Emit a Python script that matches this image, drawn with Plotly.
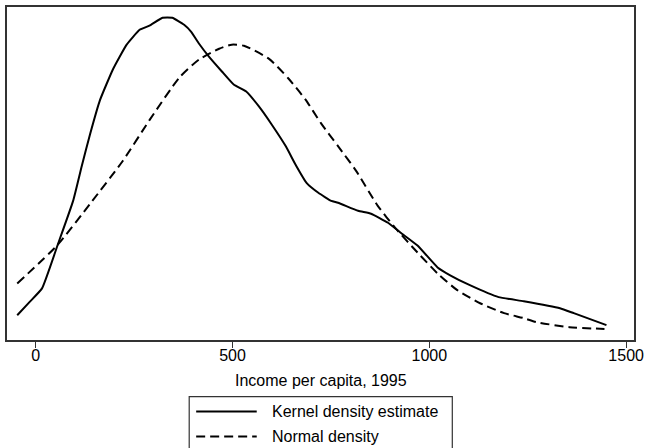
import plotly.graph_objects as go

# Kernel density estimate of income per capita, 1995
kernel_income = [-47, -16, 16, 57, 95, 117, 138, 163, 196, 231, 264, 289, 322, 347,
                 377, 395, 415, 440, 473, 503, 534, 567, 599, 635, 662, 688, 718,
                 751, 768, 819, 852, 895, 927, 970, 1021, 1053, 1103, 1176, 1240,
                 1332, 1367, 1450]
kernel_density = [0.000110, 0.000168, 0.000229, 0.000428, 0.000617, 0.000772,
                  0.000913, 0.001063, 0.001200, 0.001310, 0.001376, 0.001394,
                  0.001429, 0.001429, 0.001398, 0.001367, 0.001314, 0.001257,
                  0.001191, 0.001133, 0.001103, 0.001036, 0.000957, 0.000860,
                  0.000772, 0.000697, 0.000653, 0.000617, 0.000609, 0.000573,
                  0.000560, 0.000520, 0.000476, 0.000419, 0.000322, 0.000287,
                  0.000243, 0.000190, 0.000172, 0.000141, 0.000119, 0.000066]

# Normal density with the same mean and standard deviation
normal_income = [-47, 54, 138, 221, 289, 365, 415, 466, 498, 529, 592, 642, 685,
                 725, 768, 814, 869, 915, 970, 1021, 1071, 1129, 1190, 1240, 1273,
                 1356, 1445]
normal_density = [0.000251, 0.000419, 0.000604, 0.000794, 0.000975, 0.001164,
                  0.001244, 0.001292, 0.001310, 0.001305, 0.001248, 0.001160,
                  0.001067, 0.000961, 0.000860, 0.000750, 0.000595, 0.000494,
                  0.000388, 0.000295, 0.000221, 0.000163, 0.000119, 0.000097,
                  0.000079, 0.000057, 0.000049]

x_ticks = [0, 500, 1000, 1500]
x_tick_labels = ["0", "500", "1000", "1500"]
series_names = ["Kernel density estimate", "Normal density"]

FONT = "Arial, Liberation Sans, sans-serif"
DASH = "9px,5px"

fig = go.Figure()
fig.add_trace(go.Scatter(x=kernel_income, y=kernel_density, mode="lines",
                         name=series_names[0],
                         line=dict(color="black", width=2, shape="spline",
                                   smoothing=0.4),
                         showlegend=False))
fig.add_trace(go.Scatter(x=normal_income, y=normal_density, mode="lines",
                         name=series_names[1],
                         line=dict(color="black", width=2, dash=DASH,
                                   shape="spline", smoothing=0.6),
                         showlegend=False))

fig.update_layout(
    width=649, height=448,
    margin=dict(l=7, r=11, t=5, b=108),
    paper_bgcolor="white", plot_bgcolor="white",
    font=dict(family=FONT, color="black", size=16),
    xaxis=dict(range=[-73, 1520], tickvals=x_ticks, ticktext=x_tick_labels,
               ticks="outside", ticklen=6, tickwidth=1, tickcolor="#333",
               ticklabelstandoff=-6,
               showline=True, linecolor="#333", linewidth=1.5, mirror=True,
               showgrid=False, zeroline=False,
               tickfont=dict(size=16, family=FONT, color="black")),
    yaxis=dict(range=[0, 0.001477], showticklabels=False, ticks="",
               showline=True, linecolor="#333", linewidth=1.5, mirror=True,
               showgrid=False, zeroline=False),
)

# Axis title
fig.add_annotation(text="Income per capita, 1995", xref="paper", yref="paper",
                   x=0.5, y=-0.122, xanchor="center", yanchor="middle",
                   showarrow=False, font=dict(size=16, family=FONT, color="black"))

# Legend box drawn below the axis title
fig.add_shape(type="rect", xref="paper", yref="paper",
              x0=0.2906, x1=0.7102, y0=-0.170, y1=-0.40,
              line=dict(color="#333", width=1.2), fillcolor="white")
legend_rows = [(-0.2149, "solid"), (-0.2896, DASH)]
for (row_y, dash), name in zip(legend_rows, series_names):
    fig.add_shape(type="line", xref="paper", yref="paper",
                  x0=0.3017, x1=0.3983, y0=row_y, y1=row_y,
                  line=dict(color="black", width=2, dash=dash))
    fig.add_annotation(text=name, xref="paper", yref="paper",
                       x=0.4189, y=row_y, xanchor="left", yanchor="middle",
                       showarrow=False,
                       font=dict(size=16, family=FONT, color="black"))

fig.write_html("out.html")
